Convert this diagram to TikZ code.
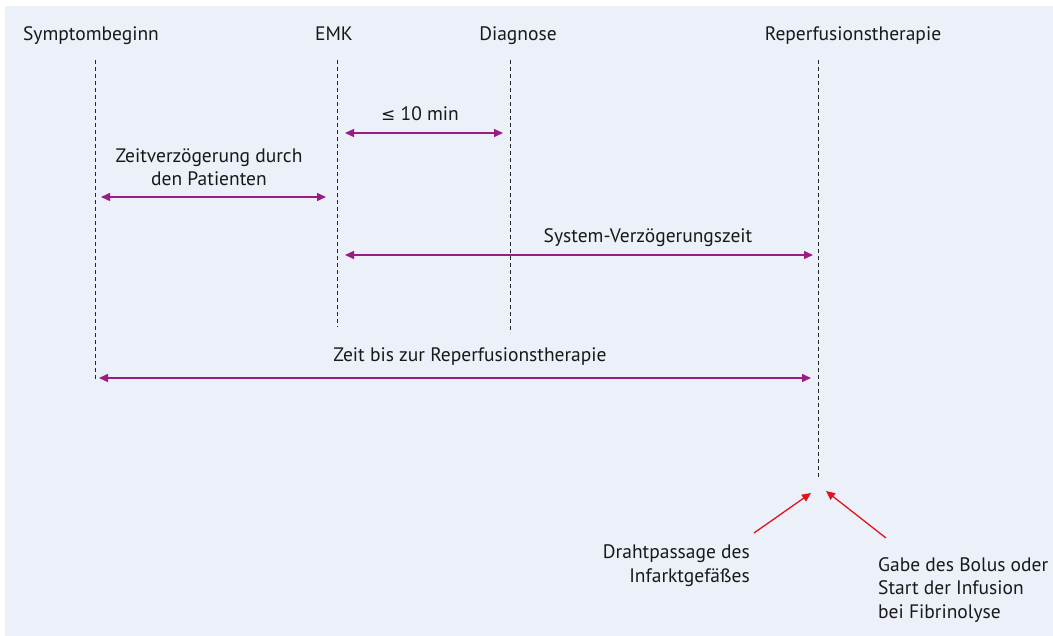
\documentclass[tikz,border=0pt]{standalone}
\usepackage{fontspec}
\setmainfont{PT Sans}
\newfontfamily\symfont{DejaVu Sans}
\usetikzlibrary{arrows.meta}
\definecolor{bgblue}{HTML}{ECF0F9}
\definecolor{arrpurple}{HTML}{9C1A84}
\definecolor{arrred}{HTML}{E2141B}
\begin{document}
\begin{tikzpicture}[x=1pt,y=-1pt,
  lbl/.style={inner sep=0pt,font=\fontsize{19.5}{23.5}\selectfont,text=black!90},
  tline/.style={draw=black!85,line width=1pt,dash pattern=on 4pt off 3pt},
  span/.style={draw=arrpurple,line width=1.5pt,{Triangle[length=9pt,width=8pt]}-{Triangle[length=9pt,width=8pt]}},
  pointer/.style={draw=arrred,line width=1.3pt,-{Triangle[length=9pt,width=8pt]}}]
\useasboundingbox (0,0) rectangle (1053,636);
\fill[bgblue] (5,6) rectangle (1053,636);
% headers
\node[lbl,anchor=base] (hs) at (91,41) {Symptombeginn};
\node[lbl,anchor=base] (he) at (334,41) {EMK};
\node[lbl,anchor=base] (hd) at (518,41) {Diagnose};
\node[lbl,anchor=base] (hr) at (853,41) {Reperfusionstherapie};
% timeline ends
\coordinate (s1) at (95,60);  \coordinate (s2) at (95,379);
\coordinate (e1) at (337,60); \coordinate (e2) at (337,327);
\coordinate (d1) at (510,60); \coordinate (d2) at (510,333);
\coordinate (r1) at (818,60); \coordinate (r2) at (818,479);
\draw[tline] (s1) -- (s2);
\draw[tline] (e1) -- (e2);
\draw[tline] (d1) -- (d2);
\draw[tline] (r1) -- (r2);
% spans
\coordinate (a1) at (345,133); \coordinate (a2) at (503,133);
\draw[span] (a1) -- (a2);
\node[lbl,anchor=base] (ta) at (420,121) {{\symfont\fontsize{17}{20}\selectfont ≤} 10 min};
\coordinate (b1) at (101,197); \coordinate (b2) at (326,197);
\draw[span] (b1) -- (b2);
\node[lbl,anchor=base,align=center] (tb) at (209,186) {Zeitverzögerung durch\\den Patienten};
\coordinate (c1) at (345,255); \coordinate (c2) at (813,255);
\draw[span] (c1) -- (c2);
\node[lbl,anchor=base] (tc) at (648,243) {System-Verzögerungszeit};
\coordinate (z1) at (99,378); \coordinate (z2) at (811,378);
\draw[span] (z1) -- (z2);
\node[lbl,anchor=base] (tz) at (470,362) {Zeit bis zur Reperfusionstherapie};
% red pointers
\coordinate (p1s) at (754,533); \coordinate (p1e) at (811,493);
\coordinate (p2s) at (886,538); \coordinate (p2e) at (826,491);
\draw[pointer] (p1s) -- (p1e);
\draw[pointer] (p2s) -- (p2e);
\node[lbl,anchor=base east,align=right] (tdr) at (750,582) {Drahtpassage des\\Infarktgefäßes};
\node[lbl,anchor=base west,align=left] (tga) at (878,618) {Gabe des Bolus oder\\Start der Infusion\\bei Fibrinolyse};
\end{tikzpicture}
\end{document}
